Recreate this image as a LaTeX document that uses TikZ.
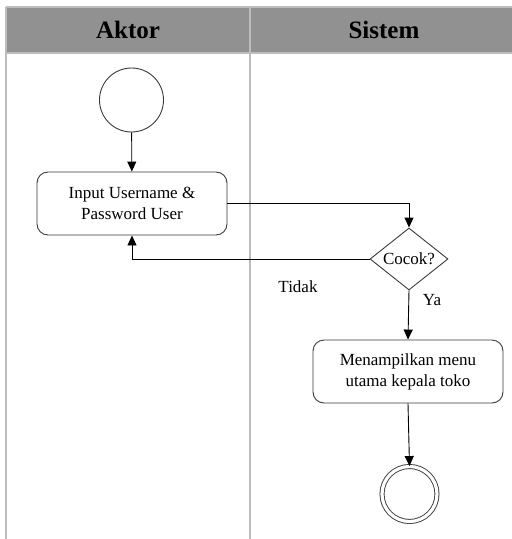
\documentclass[tikz,border=0pt]{standalone}
\usepackage{fontspec}
\setmainfont{Liberation Serif}
\usetikzlibrary{arrows.meta,shapes.geometric}
\definecolor{headgray}{HTML}{919191}
\definecolor{laneline}{HTML}{BDBDBD}
\definecolor{shapeline}{HTML}{3A3A3A}
\tikzset{
  lbl/.style={font=\fontsize{17}{21}\selectfont, text=black},
  action/.style={lbl, draw=shapeline, line width=0.9pt, rounded corners=11pt,
    minimum width=190pt, minimum height=63pt, align=center, inner sep=2pt},
  decision/.style={lbl, draw=shapeline, line width=0.9pt, diamond, aspect=1.26,
    minimum width=78pt, minimum height=62pt, inner sep=0.5pt},
  startnode/.style={draw=shapeline, line width=0.9pt, circle, minimum size=64pt, inner sep=0pt},
  endnode/.style={draw=shapeline, line width=0.9pt, circle, double=white,
    double distance=3.2pt, minimum size=55pt, inner sep=0pt},
  flow/.style={draw=black, line width=0.9pt, -{Triangle[length=10pt,width=9pt]}},
  headtext/.style={font=\bfseries\fontsize{25}{30}\selectfont, text=black}
}
\begin{document}
\begin{tikzpicture}[x=1pt,y=-1pt]
  \useasboundingbox (0,0) rectangle (512,539);
  % swimlane header
  \fill[headgray] (6,7) rectangle (514,53);
  \draw[laneline, line width=1.2pt] (6,7) -- (514,7);
  \draw[laneline, line width=1.2pt] (6,53) -- (514,53);
  % lane borders
  \draw[laneline, line width=1.5pt] (6,7) -- (6,539);
  \draw[laneline, line width=1.5pt] (250,7) -- (250,539);
  \node[headtext] (hakt) at (128,30) {Aktor};
  \node[headtext] (hsys) at (384,30) {Sistem};

  % activity nodes
  \node[startnode] (start) at (131.5,100) {};
  \node[action] (input) at (132,203.5) {Input Username \&\\Password User};
  \node[decision] (cek) at (409,259) {Cocok?};
  \node[action] (menu) at (408,371.5) {Menampilkan menu\\utama kepala toko};
  \node[endnode] (stop) at (409.5,494) {};

  \coordinate (c1) at (409,203.5);
  \coordinate (c2) at (132,259);

  % control flow
  \draw[flow] (start) -- (input);
  \draw[flow] (input.east) -- (c1) -- (cek.north);
  \draw[flow] (cek.west) -- (c2) -- (input.south);
  \draw[flow] (cek.south) -- (menu.north);
  \draw[flow] (menu.south) -- (stop.north);

  \node[lbl] (tidak) at (298,287) {Tidak};
  \node[lbl] (ya) at (432,300) {Ya};
\end{tikzpicture}
\end{document}
